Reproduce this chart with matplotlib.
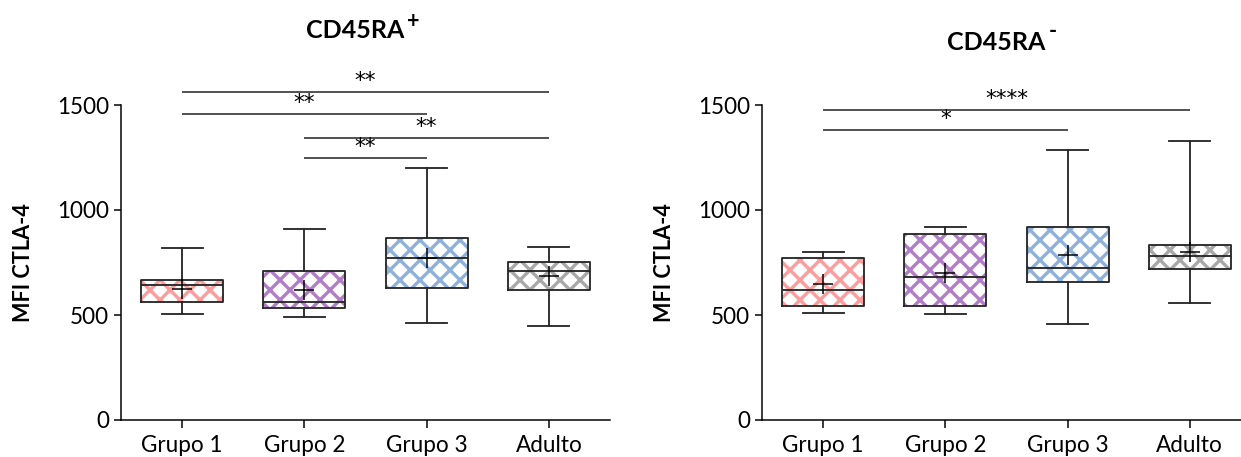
import matplotlib
matplotlib.use('Agg')
import matplotlib.pyplot as plt

plt.rcParams['font.family'] = ['Lato', 'DejaVu Sans']
plt.rcParams['hatch.linewidth'] = 2.0

categories = ["Grupo 1", "Grupo 2", "Grupo 3", "Adulto"]
colors = ["#FF9B9B", "#B07DC8", "#8EB0DC", "#A8A8A8"]
yticks = [0, 500, 1000, 1500]

# CD45RA+
pos_whislo = [505, 490, 463, 448]
pos_q1 = [560, 535, 627, 617]
pos_med = [643, 560, 770, 711]
pos_q3 = [668, 711, 865, 751]
pos_whishi = [817, 909, 1200, 824]
pos_mean = [622, 619, 772, 686]
pos_sig_start = [0, 0, 1, 1]
pos_sig_end = [3, 2, 3, 2]
pos_sig_y = [1563, 1455, 1344, 1248]
pos_sig_label = ["**", "**", "**", "**"]

# CD45RA-
neg_whislo = [508, 503, 455, 557]
neg_q1 = [543, 543, 659, 717]
neg_med = [620, 679, 722, 782]
neg_q3 = [770, 884, 917, 833]
neg_whishi = [800, 920, 1284, 1329]
neg_mean = [647, 700, 786, 801]
neg_sig_start = [0, 0]
neg_sig_end = [3, 2]
neg_sig_y = [1478, 1381]
neg_sig_label = ["****", "*"]

DPI = 120
fig = plt.figure(figsize=(1241 / DPI, 457 / DPI), dpi=DPI)

ax1 = fig.add_axes([121 / 1241, 37 / 457, 489 / 1241, 315 / 457])
ax2 = fig.add_axes([762 / 1241, 37 / 457, 489 / 1241, 315 / 457])


def draw(ax, whislo, q1, med, q3, whishi, mean, s0, s1, sy, sl):
    stats = []
    for i in range(len(categories)):
        stats.append(dict(whislo=whislo[i], q1=q1[i], med=med[i], q3=q3[i],
                          whishi=whishi[i], mean=mean[i], fliers=[]))
    pos = list(range(len(categories)))
    b = ax.bxp(stats, positions=pos, widths=0.67, patch_artist=True,
               showcaps=False, showfliers=False, manage_ticks=False,
               boxprops=dict(linewidth=0),
               whiskerprops=dict(linewidth=0),
               medianprops=dict(linewidth=0))
    for p, c in zip(b['boxes'], colors):
        p.set_facecolor('white')
        p.set_edgecolor(c)
        p.set_linewidth(0)
        p.set_hatch('xx')
        p.set_zorder(1)
    lc = '#262626'
    ax.bxp(stats, positions=pos, widths=0.67, patch_artist=False,
           showmeans=True, showfliers=False, manage_ticks=False,
           boxprops=dict(color=lc, linewidth=1.1),
           whiskerprops=dict(color=lc, linewidth=1.1),
           capprops=dict(color=lc, linewidth=1.1),
           medianprops=dict(color=lc, linewidth=1.1),
           meanprops=dict(marker='+', markersize=12, markeredgecolor='black',
                          markeredgewidth=0.9))
    for a, bb, y, lab in zip(s0, s1, sy, sl):
        ax.plot([a, bb], [y, y], color='#555555', lw=1.2, clip_on=False,
                solid_capstyle='butt')
        ax.text((a + bb) / 2, y + 5, lab, ha='center', va='bottom',
                fontsize=13, family=['DejaVu Sans'], clip_on=False)
    ax.set_xlim(-0.5, 3.5)
    ax.set_ylim(0, 1500)
    ax.set_yticks(yticks)
    ax.set_xticks(pos)
    ax.set_xticklabels(categories)
    ax.tick_params(axis='y', length=4, width=0.9, labelsize=13.5, pad=3)
    ax.tick_params(axis='x', length=5, width=0.9, labelsize=13.5, pad=4)
    for s in ['top', 'right']:
        ax.spines[s].set_visible(False)
    for s in ['left', 'bottom']:
        ax.spines[s].set_linewidth(0.9)
    ax.set_ylabel('MFI CTLA-4', fontsize=13, fontweight='bold', labelpad=14)


draw(ax1, pos_whislo, pos_q1, pos_med, pos_q3, pos_whishi, pos_mean,
     pos_sig_start, pos_sig_end, pos_sig_y, pos_sig_label)
draw(ax2, neg_whislo, neg_q1, neg_med, neg_q3, neg_whishi, neg_mean,
     neg_sig_start, neg_sig_end, neg_sig_y, neg_sig_label)

fig.text(355 / 1241, 1 - 30 / 457, 'CD45RA', ha='center', va='center',
         fontsize=15, fontweight='bold')
fig.text(413 / 1241, 1 - 21 / 457, '+', ha='center', va='center',
         fontsize=13, fontweight='bold')
fig.text(996 / 1241, 1 - 42 / 457, 'CD45RA', ha='center', va='center',
         fontsize=15, fontweight='bold')
fig.text(1053 / 1241, 1 - 32 / 457, '-', ha='center', va='center',
         fontsize=13, fontweight='bold')

fig.savefig('out.png', dpi=DPI)
